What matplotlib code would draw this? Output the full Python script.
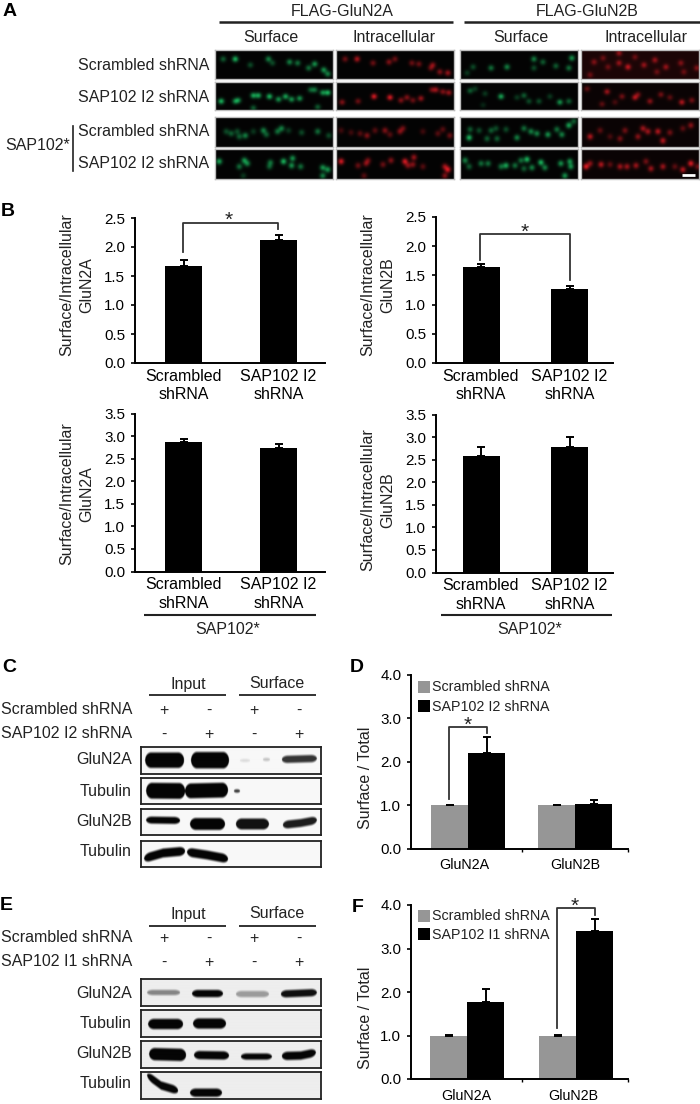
import numpy as np
import matplotlib
matplotlib.use('Agg')
import matplotlib.pyplot as plt

plt.rcParams['font.family'] = ['Liberation Sans', 'DejaVu Sans']
plt.rcParams['text.color'] = '#222222'
plt.rcParams['axes.labelcolor'] = '#222222'

W, H = 700, 1104
TXT = 11.5

# panel B, (scrambled, SAP102 I2)
b1_vals, b1_err = [1.68, 2.12], [0.09, 0.09]
b2_vals, b2_err = [1.64, 1.26], [0.05, 0.06]
b3_vals, b3_err = [2.86, 2.73], [0.07, 0.09]
b4_vals, b4_err = [2.57, 2.78], [0.20, 0.23]
b_cats = ['Scrambled\nshRNA', 'SAP102 I2\nshRNA']

# panels D and F, (GluN2A, GluN2B)
groups = ['GluN2A', 'GluN2B']
d_ctrl, d_ctrl_err = [1.0, 1.0], [0.01, 0.01]
d_kd, d_kd_err = [2.2, 1.02], [0.37, 0.10]
f_ctrl, f_ctrl_err = [1.0, 1.0], [0.02, 0.01]
f_kd, f_kd_err = [1.78, 3.4], [0.30, 0.27]

# panel A puncta: x, y, brightness inside a 118x29 panel
g2a_1 = [(20,9,1),(8,9,.5),(35,15,.4),(53,9,.7),(57,13,.4),(74,12,.7),(82,13,.6),(99,14,.8),(93,18,.6),(108,20,.8),(112,24,.7)]
r2a_1 = [(9,9,.5),(21,9,.8),(37,13,.5),(53,12,.6),(59,9,.5),(76,13,.5),(83,14,.5),(97,15,.6),(95,18,.5),(104,22,.6),(112,23,.7)]
g2a_2 = [(6,20,1),(20,20,.7),(23,19,.7),(38,14,.9),(43,14,.9),(54,15,1),(63,18,.8),(70,15,.9),(76,18,.8),(84,17,.8),(95,8,.5),(99,8,.6),(107,11,.8),(112,11,1),(38,27,.5),(102,26,.5)]
r2a_2 = [(6,21,.6),(22,20,.5),(38,15,1),(54,16,1),(65,19,.6),(71,16,.6),(77,19,.5),(85,17,.7),(96,8,.5),(100,8,.7),(107,10,.6),(113,11,.7)]
g2a_3 = [(11,14,.4),(16,16,.5),(22,14,.4),(24,19,.5),(30,18,.7),(38,14,.3),(48,13,.7),(51,17,.5),(62,14,.6),(66,11,.7),(73,13,.3),(86,15,.4),(102,14,.6),(113,18,.4)]
r2a_3 = [(5,13,.3),(15,15,.3),(24,16,.4),(31,18,.6),(39,13,.4),(49,13,.6),(54,17,.4),(64,14,.6),(67,11,.5),(87,14,.3),(102,16,.4),(107,12,.4),(114,18,.5)]
g2a_4 = [(4,12,.9),(24,17,.6),(29,11,.8),(32,14,.7),(55,13,.6),(54,17,.5),(68,12,1),(76,16,.8),(77,9,.8),(85,17,.6),(107,18,.8),(112,20,.8),(107,26,.7),(28,26,.3)]
r2a_4 = [(5,12,1),(22,16,.5),(30,14,.6),(32,11,.5),(47,15,.5),(55,11,.6),(69,12,1),(72,16,.6),(78,8,.7),(77,15,.6),(87,17,.4),(112,20,1),(109,17,.7),(109,26,.6),(28,26,.4)]
g2b_1 = [(31,18,.6),(47,17,.7),(74,9,.7),(83,12,.5),(74,18,.4),(96,16,.5),(112,8,.8),(109,18,.6),(13,17,.4),(7,23,.3)]
r2b_1 = [(13,12,.5),(38,3,.6),(38,13,.6),(47,17,.8),(63,15,.6),(74,10,.6),(85,17,.6),(100,13,.5),(116,18,.5),(9,25,.4),(27,17,.4),(54,7,.4),(103,22,.4),(22,8,.4),(76,22,.4)]
g2b_2 = [(10,9,.5),(15,7,.3),(25,12,.3),(41,15,.9),(57,16,.3),(64,14,.5),(69,20,.4),(79,20,.4),(90,15,.3),(100,21,.8),(109,20,.5),(23,24,.2)]
r2b_2 = [(6,7,.4),(26,10,.7),(41,15,.5),(54,16,.8),(57,13,.5),(69,20,.6),(80,13,.5),(89,16,.4),(101,21,.8),(111,19,.5),(21,23,.4),(34,21,.3)]
g2b_3 = [(10,12,.5),(9,20,1),(19,13,.4),(27,21,.5),(31,13,.5),(36,11,.4),(37,21,.5),(46,12,.4),(57,20,.7),(64,11,.6),(71,14,.7),(77,16,.7),(88,17,.8),(97,12,.6),(102,17,.7),(109,8,.9),(114,4,.5)]
r2b_3 = [(9,19,.8),(19,13,.4),(39,21,.5),(44,13,.5),(57,19,.6),(62,11,.7),(67,14,.7),(77,14,.8),(82,23,.8),(89,15,.5),(102,11,.4),(110,8,.6),(29,19,.3)]
g2b_4 = [(5,11,.7),(9,17,.5),(21,14,.6),(28,14,.6),(41,17,.6),(46,16,.9),(55,16,.6),(61,11,.6),(67,10,1),(64,19,.5),(72,18,.7),(81,13,1),(85,18,.7),(101,14,.8),(110,12,.8),(111,17,.8),(105,26,.8)]
r2b_4 = [(5,17,1),(9,14,.6),(20,15,.8),(29,15,.4),(39,17,.7),(46,17,.7),(55,16,.7),(65,12,.5),(70,19,.7),(82,17,.7),(94,17,.4),(110,14,1),(102,20,.8),(117,17,.5)]

# western blot bands: x points, y points, half thickness, darkness, inside a 180x26 box
c_2a = [([4,43],[12.7,12.7],7.5,1),([50,88],[12.7,12.7],8,1),([99,109],[13,13],1.5,.12),([122,129],[12,12],2,.22),([141,176],[12,11],3.5,.8)]
c_tub1 = [([5,44],[12.7,13],8,1),([44,87],[13,12],7.5,1),([93,99],[13,13],2.5,.8)]
c_2b = [([5,39],[11,11.5],3.5,1),([49,84],[15,15],6,1),([95,128],[15,15],5.5,.95),([142,160,176],[16,14,11],4,.9)]
c_tub2 = [([3,22,44],[17.5,12,10],4.5,1),([46,66,87],[11,14,18],4.5,1)]
e_2a = [([6,39],[13,13],2.5,.45),([51,82],[14,14],3.5,1),([95,128],[14.5,14.5],3,.35),([140,176],[14.5,13],3.5,.95)]
e_tub1 = [([7,42],[13.5,13.5],5,1),([52,85],[13,13],5,1)]
e_2b = [([8,45],[12.5,13.5],6,1),([53,88],[13.5,14],4,1),([100,131],[15,15],3,1),([141,160,175],[14.5,14,11],4,1)]
e_tub2 = [([6,20,37],[3,13,18],4,1),([49,81],[20,20],4,1)]


fig = plt.figure(figsize=(7.0, 11.04), dpi=100, facecolor='white')


def px_axes(x0, x1, y0, y1):
    return fig.add_axes([x0 / W, 1 - y1 / H, (x1 - x0) / W, (y1 - y0) / H])


def micrograph(x0, x1, y0, y1, spots, rgb, haze=0.0):
    ax = px_axes(x0, x1, y0, y1)
    xx, yy = np.meshgrid(np.linspace(0, 118, 354), np.linspace(0, 29, 87))
    glow = np.full(xx.shape, haze)
    for sx, sy, amp in spots:
        glow += 0.8 * amp * np.exp(-((xx - sx) ** 2 + (yy - sy) ** 2) / (2 * 2.1 ** 2))
    img = np.clip(0.012 + glow[..., None] * np.array(rgb), 0, 1)
    ax.imshow(img, extent=(0, 118, 29, 0), aspect='auto', interpolation='bilinear')
    ax.set_xticks([])
    ax.set_yticks([])
    for s in ax.spines.values():
        s.set_color('#bdbdbd')
        s.set_linewidth(1.0)


def blot(x0, x1, y0, y1, bands, bg=0.95):
    ax = px_axes(x0, x1, y0, y1)
    xx, yy = np.meshgrid(np.linspace(0, 180, 540), np.linspace(0, 26, 78))
    dark = np.zeros(xx.shape)
    for xs, ys, half, amp in bands:
        mid = np.interp(xx, xs, ys)
        edge = np.clip((xx - xs[0]) / 6, 0, 1) * np.clip((xs[-1] - xx) / 6, 0, 1)
        h = half * np.sqrt(edge * (2 - edge))
        d = np.clip((h - np.abs(yy - mid)) / 2.6 + 0.5, 0, 1) * amp * (edge > 0)
        dark = np.maximum(dark, d)
    ax.imshow(bg * (1 - dark) + 0.02 * dark, extent=(0, 180, 26, 0), aspect='auto',
              cmap='gray', vmin=0, vmax=1, interpolation='bilinear')
    ax.set_xticks([])
    ax.set_yticks([])
    for s in ax.spines.values():
        s.set_color('#222222')
        s.set_linewidth(1.3)


def style_axes(ax, yticks):
    ax.spines['top'].set_visible(False)
    ax.spines['right'].set_visible(False)
    ax.spines['left'].set_linewidth(1.4)
    ax.spines['bottom'].set_linewidth(1.4)
    ax.set_yticks(yticks)
    ax.set_yticklabels(['%.1f' % t for t in yticks], fontsize=10.9)
    ax.tick_params(axis='y', length=3, width=1.2, pad=4)
    ax.set_ylim(yticks[0], yticks[-1])
    ax.patch.set_alpha(0)


def bar_panel(box, c0, c1, vals, err, ymax):
    x0, x1, y0, y1 = box
    ax = px_axes(x0, x1, y0, y1)
    step = c1 - c0
    ax.set_xlim((x0 - c0) / step, (x1 - c0) / step)
    ax.bar([0, 1], vals, width=37 / step, color='black',
           yerr=[[0, 0], err], ecolor='black', capsize=3, error_kw={'elinewidth': 1.4, 'capthick': 1.4})
    style_axes(ax, list(np.arange(0, ymax + 0.01, 0.5)))
    ax.set_xticks([0, 1])
    ax.set_xticklabels(b_cats, fontsize=TXT, linespacing=1.3)
    ax.tick_params(axis='x', length=0, pad=4)
    return ax


def group_panel(box, centre0, centre1, label0, label1, ctrl, ctrl_err, kd, kd_err):
    x0, x1, y0, y1 = box
    ax = px_axes(x0, x1, y0, y1)
    step = centre1 - centre0
    ax.set_xlim((x0 - centre0) / step, (x1 - centre0) / step)
    wd = 37 / step
    pos = np.array([0, 1])
    kw = {'elinewidth': 1.4, 'capthick': 1.4}
    ax.bar(pos - wd / 2, ctrl, width=wd, color='#969696', yerr=[[0, 0], ctrl_err], ecolor='black', capsize=3, error_kw=kw)
    ax.bar(pos + wd / 2, kd, width=wd, color='black', yerr=[[0, 0], kd_err], ecolor='black', capsize=3, error_kw=kw)
    style_axes(ax, [0.0, 1.0, 2.0, 3.0, 4.0])
    ax.set_xticks([(label0 - centre0) / step, (label1 - centre0) / step])
    ax.set_xticklabels(groups, fontsize=10.3)
    ax.tick_params(axis='x', which='major', length=0, pad=7)
    ax.set_xticks([0.5, ax.get_xlim()[1]], minor=True)
    ax.tick_params(axis='x', which='minor', length=2.5, width=1.0)
    return ax


# panel A images
col_x = [(215, 333), (336, 454), (460, 578), (581, 699)]
row_y = [(50, 79), (82, 110), (117, 147), (149, 179)]
GREEN = (0.10, 0.80, 0.40)
RED = (0.95, 0.10, 0.14)
grid = [[g2a_1, r2a_1, g2b_1, r2b_1], [g2a_2, r2a_2, g2b_2, r2b_2],
        [g2a_3, r2a_3, g2b_3, r2b_3], [g2a_4, r2a_4, g2b_4, r2b_4]]
for r, (y0, y1) in enumerate(row_y):
    for c, (x0, x1) in enumerate(col_x):
        is_red = c % 2 == 1
        haze = 0.10 if (c == 3 and r in (0,)) else 0.03 if c == 3 else 0.0
        micrograph(x0, x1, y0, y1, grid[r][c], RED if is_red else GREEN, haze)

# bar panels
bar_panel((135, 325, 218, 363), 183.5, 278.5, b1_vals, b1_err, 2.5)
bar_panel((436, 613, 217, 363), 481, 569.5, b2_vals, b2_err, 2.5)
bar_panel((135, 325, 413.5, 571.5), 183.5, 278.5, b3_vals, b3_err, 3.5)
bar_panel((436, 613, 414.5, 572.5), 481, 569.5, b4_vals, b4_err, 3.5)
group_panel((411, 628, 675, 848.5), 468, 575, 464, 575, d_ctrl, d_ctrl_err, d_kd, d_kd_err)
group_panel((411, 628, 905, 1079), 467, 576, 466, 573, f_ctrl, f_ctrl_err, f_kd, f_kd_err)

# blots
for (y0, y1), bands in zip([(747, 774), (778, 804), (809, 835), (841, 867)], [c_2a, c_tub1, c_2b, c_tub2]):
    blot(141, 321, y0, y1, bands, 0.97)
for (y0, y1), bands in zip([(979, 1006), (1010, 1037), (1041, 1068), (1072, 1099)], [e_2a, e_tub1, e_2b, e_tub2]):
    blot(141, 321, y0, y1, bands, 0.93)

# everything annotated in pixel coordinates goes on one overlay
ov = fig.add_axes([0, 0, 1, 1], zorder=20)
ov.set_xlim(0, W)
ov.set_ylim(H, 0)
ov.axis('off')


def label(x, y, s, ha='center', size=TXT, **kw):
    ov.text(x, y, s, ha=ha, va='center', fontsize=size, **kw)


def hline(x0, x1, y, lw=1.5, color='#222222'):
    ov.plot([x0, x1], [y, y], color=color, lw=lw, solid_capstyle='butt')


def bracket(xl, yl, xr, yr, ytop, xs):
    ov.plot([xl, xl, xr, xr], [yl, ytop, ytop, yr], color='#333333', lw=1.3)
    ov.text(xs, ytop - 2, '*', ha='center', va='center', fontsize=15)


for x, y, s in [(10, 12, 'A'), (8, 212, 'B'), (9, 668, 'C'), (357, 668, 'D'), (6, 905, 'E'), (358, 907, 'F')]:
    ov.text(x, y, s, ha='center', va='center', fontsize=14, fontweight='bold', color='black')

label(342, 11, 'FLAG-GluN2A')
label(587, 11, 'FLAG-GluN2B')
hline(219, 453, 22, 1.8)
hline(464, 700, 22, 1.8)
for x, s in zip([271, 394, 521, 646], ['Surface', 'Intracellular', 'Surface', 'Intracellular']):
    label(x, 38, s)
for y, s in zip([66, 98, 132, 164], ['Scrambled shRNA', 'SAP102 I2 shRNA', 'Scrambled shRNA', 'SAP102 I2 shRNA']):
    label(209, y, s, ha='right')
label(5, 146, 'SAP102*', ha='left')
ov.plot([73, 73], [126, 171], color='#222222', lw=1.2)
hline(682, 695, 175, 2.0, 'white')

# y labels
for x, yc, gene in [(67, 285, 'GluN2A'), (368, 285, 'GluN2B'), (67, 494, 'GluN2A'), (368, 500, 'GluN2B')]:
    label(x, yc, 'Surface/Intracellular', rotation=90)
    label(x + 20, yc, gene, rotation=90)
label(365, 778, 'Surface / Total', rotation=90)
label(365, 1018, 'Surface / Total', rotation=90)

# significance
bracket(183, 252, 278, 229, 222.5, 229)
bracket(480, 260, 570, 280, 234, 525)
bracket(449, 799, 487, 733, 727, 468)
bracket(557, 1028, 595, 915, 908, 575)

# SAP102* rescue underlines
hline(144, 316, 615)
hline(441, 612, 615)
label(228, 629, 'SAP102*')
label(530, 629, 'SAP102*')

# legends of D and F
for sq_y, text_y, s, col, in [(681, 687, 'Scrambled shRNA', '#969696'), (700, 707, 'SAP102 I2 shRNA', 'black')]:
    ov.add_patch(plt.Rectangle((418, sq_y), 12, 11.5, color=col, lw=0))
    label(432, text_y, s, ha='left', size=10.3)
for sq_y, text_y, s, col in [(910, 916, 'Scrambled shRNA', '#969696'), (928, 935, 'SAP102 I1 shRNA', 'black')]:
    ov.add_patch(plt.Rectangle((418, sq_y), 12, 11.5, color=col, lw=0))
    label(432, text_y, s, ha='left', size=10.3)

# C and E headers
lane_x = [164, 209, 254, 299]
marks1 = ['+', '-', '+', '-']
marks2 = ['-', '+', '-', '+']
for top, line_y, y1, y2, name2 in [(684, 695, 710, 733, 'SAP102 I2 shRNA'), (914, 926, 938, 961, 'SAP102 I1 shRNA')]:
    label(188, top, 'Input')
    label(277, top, 'Surface')
    hline(149, 226, line_y, 1.3)
    hline(239, 316, line_y, 1.3)
    label(1, y1, 'Scrambled shRNA', ha='left')
    label(1, y2, name2, ha='left')
    for x, a, b in zip(lane_x, marks1, marks2):
        label(x, y1, a)
        label(x, y2 + 1, b)
for y, s in zip([759, 791, 822, 852], ['GluN2A', 'Tubulin', 'GluN2B', 'Tubulin']):
    label(132, y, s, ha='right')
for y, s in zip([993, 1023, 1054, 1084], ['GluN2A', 'Tubulin', 'GluN2B', 'Tubulin']):
    label(132, y, s, ha='right')

fig.savefig('out.png', dpi=100, facecolor='white')
